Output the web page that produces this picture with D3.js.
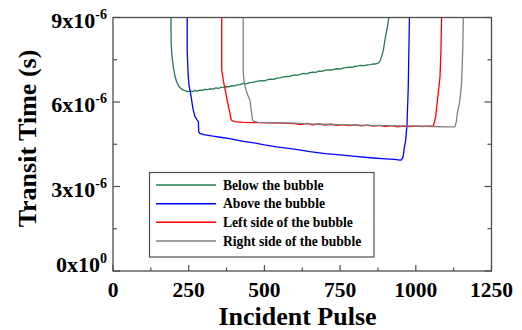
<!DOCTYPE html>
<html><head><meta charset="utf-8">
<script src="https://cdn.jsdelivr.net/npm/d3@7"></script>
<style>body{margin:0;background:#fff}svg{display:block}</style>
</head><body>
<script>
// x: incident pulse number, y: transit time in units of 1e-6 s
const below = [[191.5,9.0],[191.5,8.6],[192,8.08],[195,7.6],[199,7.25],[204,6.95],[210,6.72],[218,6.55],[227,6.45],[238,6.40],[246,6.37],[254,6.39],[262,6.37],[270,6.41],[278,6.39],[287,6.42],[295,6.41],[303,6.45],[312,6.44],[320,6.47],[330,6.46],[340,6.50],[348,6.48],[356,6.52],[365,6.53],[374,6.55],[383,6.54],[392,6.58],[401,6.57],[410,6.61],[420,6.62],[430,6.66],[440,6.64],[450,6.69],[460,6.70],[470,6.72],[480,6.74],[490,6.76],[500,6.75],[510,6.79],[520,6.81],[530,6.80],[541,6.85],[550,6.86],[560,6.88],[570,6.91],[580,6.90],[590,6.94],[600,6.96],[610,6.95],[620,6.99],[630,7.02],[640,7.00],[650,7.04],[660,7.06],[670,7.05],[680,7.10],[690,7.09],[700,7.12],[710,7.14],[720,7.13],[730,7.16],[740,7.18],[750,7.17],[761,7.21],[770,7.22],[780,7.24],[790,7.23],[800,7.27],[810,7.28],[820,7.30],[830,7.29],[840,7.32],[850,7.33],[860,7.35],[868,7.35],[876,7.38],[882,7.46],[887,7.61],[893,7.85],[898,8.20],[906,8.67],[911,9.0]];
const above = [[245,9.0],[245,7.82],[248,7.0],[251,6.6],[254,6.43],[258,6.2],[262,5.9],[265,5.72],[270,5.5],[278,5.36],[282,5.30],[283,4.95],[286,4.89],[300,4.84],[330,4.79],[360,4.74],[390,4.69],[430,4.60],[470,4.54],[500,4.48],[540,4.41],[580,4.35],[620,4.29],[650,4.24],[700,4.17],[750,4.12],[800,4.07],[850,4.02],[900,3.98],[930,3.96],[948,3.94],[953,3.95],[958,4.05],[962,4.37],[966,4.6],[971,5.19],[975,6.5],[977,7.8],[979,9.0]];
const left = [[359,9.0],[359,7.14],[362,6.95],[364,6.78],[370,6.45],[377,6.07],[381,5.85],[384,5.72],[386,5.62],[389,5.42],[393,5.34],[403,5.30],[430,5.28],[470,5.27],[520,5.26],[560,5.25],[600,5.23],[620,5.20],[640,5.24],[660,5.19],[680,5.22],[700,5.18],[720,5.21],[740,5.17],[760,5.20],[780,5.16],[800,5.19],[820,5.15],[840,5.18],[860,5.14],[880,5.17],[900,5.13],[920,5.16],[940,5.12],[959,5.14],[980,5.13],[1000,5.14],[1020,5.13],[1040,5.14],[1058,5.15],[1063,5.36],[1066,5.5],[1069,5.83],[1072,6.1],[1076,6.5],[1080,6.90],[1083,7.8],[1085,9.0]];
const right = [[430,9.0],[430,7.14],[432,6.8],[435,6.6],[439,6.43],[445,6.25],[452,6.07],[455,5.85],[456,5.72],[459,5.5],[461,5.36],[466,5.31],[480,5.28],[520,5.27],[560,5.26],[600,5.25],[650,5.22],[700,5.21],[750,5.20],[800,5.18],[850,5.17],[900,5.16],[959,5.15],[1000,5.14],[1050,5.13],[1100,5.12],[1129,5.12],[1134,5.3],[1137,5.60],[1144,5.95],[1148,6.3],[1151,6.66],[1153,7.2],[1155,7.85],[1157,9.0]];

const seriesNames = ["Below the bubble","Above the bubble","Left side of the bubble","Right side of the bubble"];
const seriesColors = ["#237a4f","#0000ff","#ff0000","#808080"];
const xTicks = [0,250,500,750,1000,1250];
const xMinor = [125,375,625,875,1125];
const yTicks = [0,3,6,9];
const yMinor = [1.5,4.5,7.5];
const yTickBase = ["0x10","3x10","6x10","9x10"];
const yTickExp = ["0","-6","-6","-6"];

const W=522,H=330;
const L=113,R=491.5,T=17.5,B=271;
const x=d3.scaleLinear([0,1250],[L,R]);
const y=d3.scaleLinear([0,9],[B,T]);
const font="'Liberation Serif','Times New Roman',serif";
const axisColor="#4d4d4d";

const svg=d3.select("body").append("svg").attr("width",W).attr("height",H);
svg.append("defs").append("clipPath").attr("id","clip").append("rect")
  .attr("x",L).attr("y",T).attr("width",R-L).attr("height",B-T);

const line=d3.line().x(d=>x(d[0])).y(d=>y(d[1]));
const g=svg.append("g").attr("clip-path","url(#clip)");
[below,above,left,right].forEach((s,i)=>{
  g.append("path").datum(s).attr("d",line).attr("fill","none")
   .attr("stroke",seriesColors[i]).attr("stroke-width",1.3).attr("stroke-linejoin","round");
});

// frame
svg.append("rect").attr("x",L).attr("y",T).attr("width",R-L).attr("height",B-T)
  .attr("fill","none").attr("stroke",axisColor).attr("stroke-width",1.3);

// ticks
const tk=svg.append("g").attr("stroke",axisColor).attr("stroke-width",1.2);
yTicks.forEach(v=>{tk.append("line").attr("x1",L).attr("x2",L+7).attr("y1",y(v)).attr("y2",y(v));
  tk.append("line").attr("x1",R).attr("x2",R-7).attr("y1",y(v)).attr("y2",y(v));});
yMinor.forEach(v=>{tk.append("line").attr("x1",L).attr("x2",L+4).attr("y1",y(v)).attr("y2",y(v));
  tk.append("line").attr("x1",R).attr("x2",R-4).attr("y1",y(v)).attr("y2",y(v));});
xTicks.forEach(v=>tk.append("line").attr("x1",x(v)).attr("x2",x(v)).attr("y1",B).attr("y2",B-6));
xMinor.forEach(v=>tk.append("line").attr("x1",x(v)).attr("x2",x(v)).attr("y1",B).attr("y2",B-3.5));

// tick labels
xTicks.forEach(v=>svg.append("text").attr("x",x(v)).attr("y",296.5).attr("text-anchor","middle")
  .attr("font-family",font).attr("font-weight","bold").attr("font-size",21.5).text(v));
yTicks.forEach((v,i)=>{
  const t=svg.append("text").attr("x",107).attr("y",v===0?272:y(v)+10.3).attr("text-anchor","end")
   .attr("font-family",font).attr("font-weight","bold").attr("font-size",22);
  t.append("tspan").text(yTickBase[i]);
  t.append("tspan").attr("dy",-9).attr("font-size",14).text(yTickExp[i]);
});

// axis titles
svg.append("text").attr("x",297.5).attr("y",325).attr("text-anchor","middle")
  .attr("font-family",font).attr("font-weight","bold").attr("font-size",26).text("Incident Pulse");
svg.append("text").attr("transform","translate(36,138.5) rotate(-90)").attr("text-anchor","middle")
  .attr("font-family",font).attr("font-weight","bold").attr("font-size",26).text("Transit Time (s)");

// legend
const lg=svg.append("g");
lg.append("rect").attr("x",149.5).attr("y",172.5).attr("width",224.5).attr("height",84.5)
  .attr("fill","#fff").attr("stroke",axisColor).attr("stroke-width",1.2);
const rowY=[185,203.7,222.3,241];
seriesNames.forEach((n,i)=>{
  lg.append("line").attr("x1",156).attr("x2",216).attr("y1",rowY[i]).attr("y2",rowY[i])
    .attr("stroke",seriesColors[i]).attr("stroke-width",1.5);
  lg.append("text").attr("x",223).attr("y",rowY[i]+4.5).attr("font-family",font)
    .attr("font-weight","bold").attr("font-size",13.6).text(n);
});
</script>
</body></html>
